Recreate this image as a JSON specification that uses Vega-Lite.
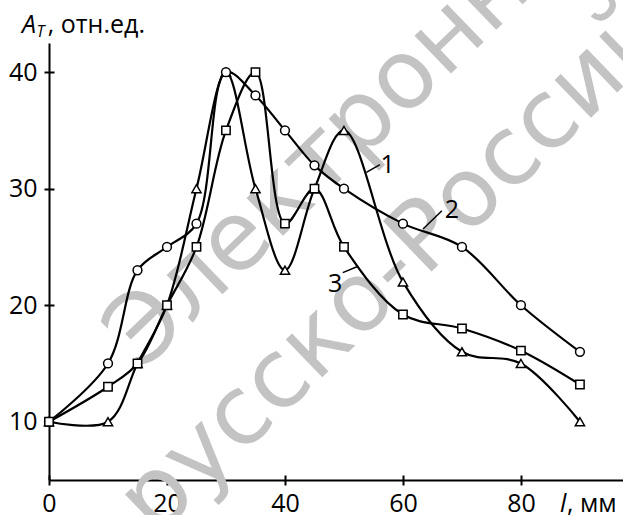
{
  "$schema": "https://vega.github.io/schema/vega-lite/v6.json",
  "width": 574,
  "height": 437,
  "autosize": "none",
  "padding": {"left": 49, "top": 43, "right": 0, "bottom": 35},
  "background": "white",
  "config": {"view": {"stroke": null}, "font": "Open Sans"},
  "datasets": {
    "curves": [
      {"series": "1", "x": 0, "y": 10}, {"series": "1", "x": 10, "y": 10}, {"series": "1", "x": 15, "y": 15}, {"series": "1", "x": 20, "y": 20}, {"series": "1", "x": 25, "y": 30}, {"series": "1", "x": 30, "y": 40}, {"series": "1", "x": 35, "y": 30}, {"series": "1", "x": 40, "y": 23}, {"series": "1", "x": 45, "y": 30}, {"series": "1", "x": 50, "y": 35}, {"series": "1", "x": 60, "y": 22}, {"series": "1", "x": 70, "y": 16}, {"series": "1", "x": 80, "y": 15}, {"series": "1", "x": 90, "y": 10},
      {"series": "2", "x": 0, "y": 10}, {"series": "2", "x": 10, "y": 15}, {"series": "2", "x": 15, "y": 23}, {"series": "2", "x": 20, "y": 25}, {"series": "2", "x": 25, "y": 27}, {"series": "2", "x": 30, "y": 40}, {"series": "2", "x": 35, "y": 38}, {"series": "2", "x": 40, "y": 35}, {"series": "2", "x": 45, "y": 32}, {"series": "2", "x": 50, "y": 30}, {"series": "2", "x": 60, "y": 27}, {"series": "2", "x": 70, "y": 25}, {"series": "2", "x": 80, "y": 20}, {"series": "2", "x": 90, "y": 16},
      {"series": "3", "x": 0, "y": 10}, {"series": "3", "x": 10, "y": 13}, {"series": "3", "x": 15, "y": 15}, {"series": "3", "x": 20, "y": 20}, {"series": "3", "x": 25, "y": 25}, {"series": "3", "x": 30, "y": 35}, {"series": "3", "x": 35, "y": 40}, {"series": "3", "x": 40, "y": 27}, {"series": "3", "x": 45, "y": 30}, {"series": "3", "x": 50, "y": 25}, {"series": "3", "x": 60, "y": 19.2}, {"series": "3", "x": 70, "y": 18}, {"series": "3", "x": 80, "y": 16.1}, {"series": "3", "x": 90, "y": 13.2}
    ],
    "leaders": [
      {"x": 53.8, "y": 31.4, "x2": 56.1, "y2": 32.06},
      {"x": 63.4, "y": 26.54, "x2": 66.6, "y2": 28.1},
      {"x": 49.8, "y": 22.8, "x2": 52.2, "y2": 23.3}
    ],
    "labels": [
      {"x": 57.4, "y": 32.0, "text": "1"},
      {"x": 68.3, "y": 28.2, "text": "2"},
      {"x": 48.5, "y": 21.8, "text": "3"}
    ],
    "italicTitles": [
      {"x": -4.58, "y": 43.37, "text": "A"},
      {"x": 86.6, "y": 2.25, "text": "l"}
    ],
    "subTitles": [
      {"x": -2.1, "y": 43.05, "text": "T"}
    ],
    "plainTitles": [
      {"x": -0.2, "y": 43.37, "text": ", отн.ед."},
      {"x": 87.8, "y": 2.25, "text": ", мм"}
    ],
    "watermark": [
      {"x": 15.75, "y": 14.28, "text": "Электронно"},
      {"x": 18.02, "y": 0.0, "text": "русско-Российский"}
    ]
  },
  "encoding": {
    "x": {"field": "x", "type": "quantitative", "scale": {"domain": [0, 97.3], "nice": false, "zero": false}, "axis": null},
    "y": {"field": "y", "type": "quantitative", "scale": {"domain": [5, 42.5], "nice": false, "zero": false}, "axis": null}
  },
  "layer": [
    {
      "data": {"name": "watermark"},
      "mark": {"type": "text", "fontSize": 96, "font": "DejaVu Sans", "fontWeight": "normal", "color": "#c3c3c3", "angle": -44, "align": "left", "baseline": "alphabetic"},
      "encoding": {"text": {"field": "text"}}
    },
    {
      "data": {"name": "curves"},
      "mark": {"type": "line", "interpolate": "catmull-rom", "color": "black", "strokeWidth": 2.2},
      "encoding": {
        "x": {"field": "x", "type": "quantitative", "scale": {"domain": [0, 97.3], "nice": false, "zero": false},
          "axis": {"orient": "bottom", "values": [0, 20, 40, 60, 80], "domainColor": "black", "domainWidth": 2, "tickColor": "black", "tickWidth": 2, "tickSize": 5, "labelFontSize": 25, "labelColor": "black", "labelFont": "Open Sans", "labelPadding": 6, "labelFlush": false, "labelOverlap": false, "title": null, "grid": false}},
        "y": {"field": "y", "type": "quantitative", "scale": {"domain": [5, 42.5], "nice": false, "zero": false},
          "axis": {"orient": "left", "values": [10, 20, 30, 40], "domainColor": "black", "domainWidth": 2, "tickColor": "black", "tickWidth": 2, "tickSize": 5, "labelFontSize": 25, "labelColor": "black", "labelFont": "Open Sans", "labelPadding": 7, "labelFlush": false, "labelOverlap": false, "title": null, "grid": false}},
        "detail": {"field": "series"}
      }
    },
    {
      "data": {"name": "curves"},
      "mark": {"type": "point", "filled": false, "fill": "white", "fillOpacity": 1, "stroke": "black", "strokeWidth": 1.5, "opacity": 1},
      "encoding": {
        "x": {"field": "x", "type": "quantitative", "scale": {"domain": [0, 97.3], "nice": false, "zero": false},
          "axis": {"orient": "bottom", "values": [0, 20, 40, 60, 80], "domain": false, "labels": false, "tickColor": "black", "tickWidth": 2, "tickSize": -5, "title": null, "grid": false}},
        "y": {"field": "y", "type": "quantitative", "scale": {"domain": [5, 42.5], "nice": false, "zero": false},
          "axis": {"orient": "left", "values": [10, 20, 30, 40], "domain": false, "labels": false, "tickColor": "black", "tickWidth": 2, "tickSize": -5, "title": null, "grid": false}},
        "shape": {"field": "series", "type": "nominal", "scale": {"domain": ["1", "2", "3"], "range": ["triangle-up", "circle", "square"]}, "legend": null},
        "size": {"field": "series", "type": "nominal", "scale": {"domain": ["1", "2", "3"], "range": [85, 70, 66]}, "legend": null}
      }
    },
    {
      "data": {"name": "leaders"},
      "mark": {"type": "rule", "color": "black", "strokeWidth": 1.5},
      "encoding": {"x2": {"field": "x2"}, "y2": {"field": "y2"}}
    },
    {
      "data": {"name": "labels"},
      "mark": {"type": "text", "fontSize": 25, "font": "Open Sans", "color": "black", "align": "center", "baseline": "middle"},
      "encoding": {"text": {"field": "text"}}
    },
    {
      "data": {"name": "italicTitles"},
      "mark": {"type": "text", "fontSize": 25, "font": "Open Sans", "fontStyle": "italic", "color": "black", "align": "left", "baseline": "alphabetic"},
      "encoding": {"text": {"field": "text"}}
    },
    {
      "data": {"name": "subTitles"},
      "mark": {"type": "text", "fontSize": 16, "font": "Open Sans", "fontStyle": "italic", "color": "black", "align": "left", "baseline": "alphabetic"},
      "encoding": {"text": {"field": "text"}}
    },
    {
      "data": {"name": "plainTitles"},
      "mark": {"type": "text", "fontSize": 25, "font": "Open Sans", "color": "black", "align": "left", "baseline": "alphabetic"},
      "encoding": {"text": {"field": "text"}}
    }
  ],
  "resolve": {"axis": {"x": "independent", "y": "independent"}}
}
